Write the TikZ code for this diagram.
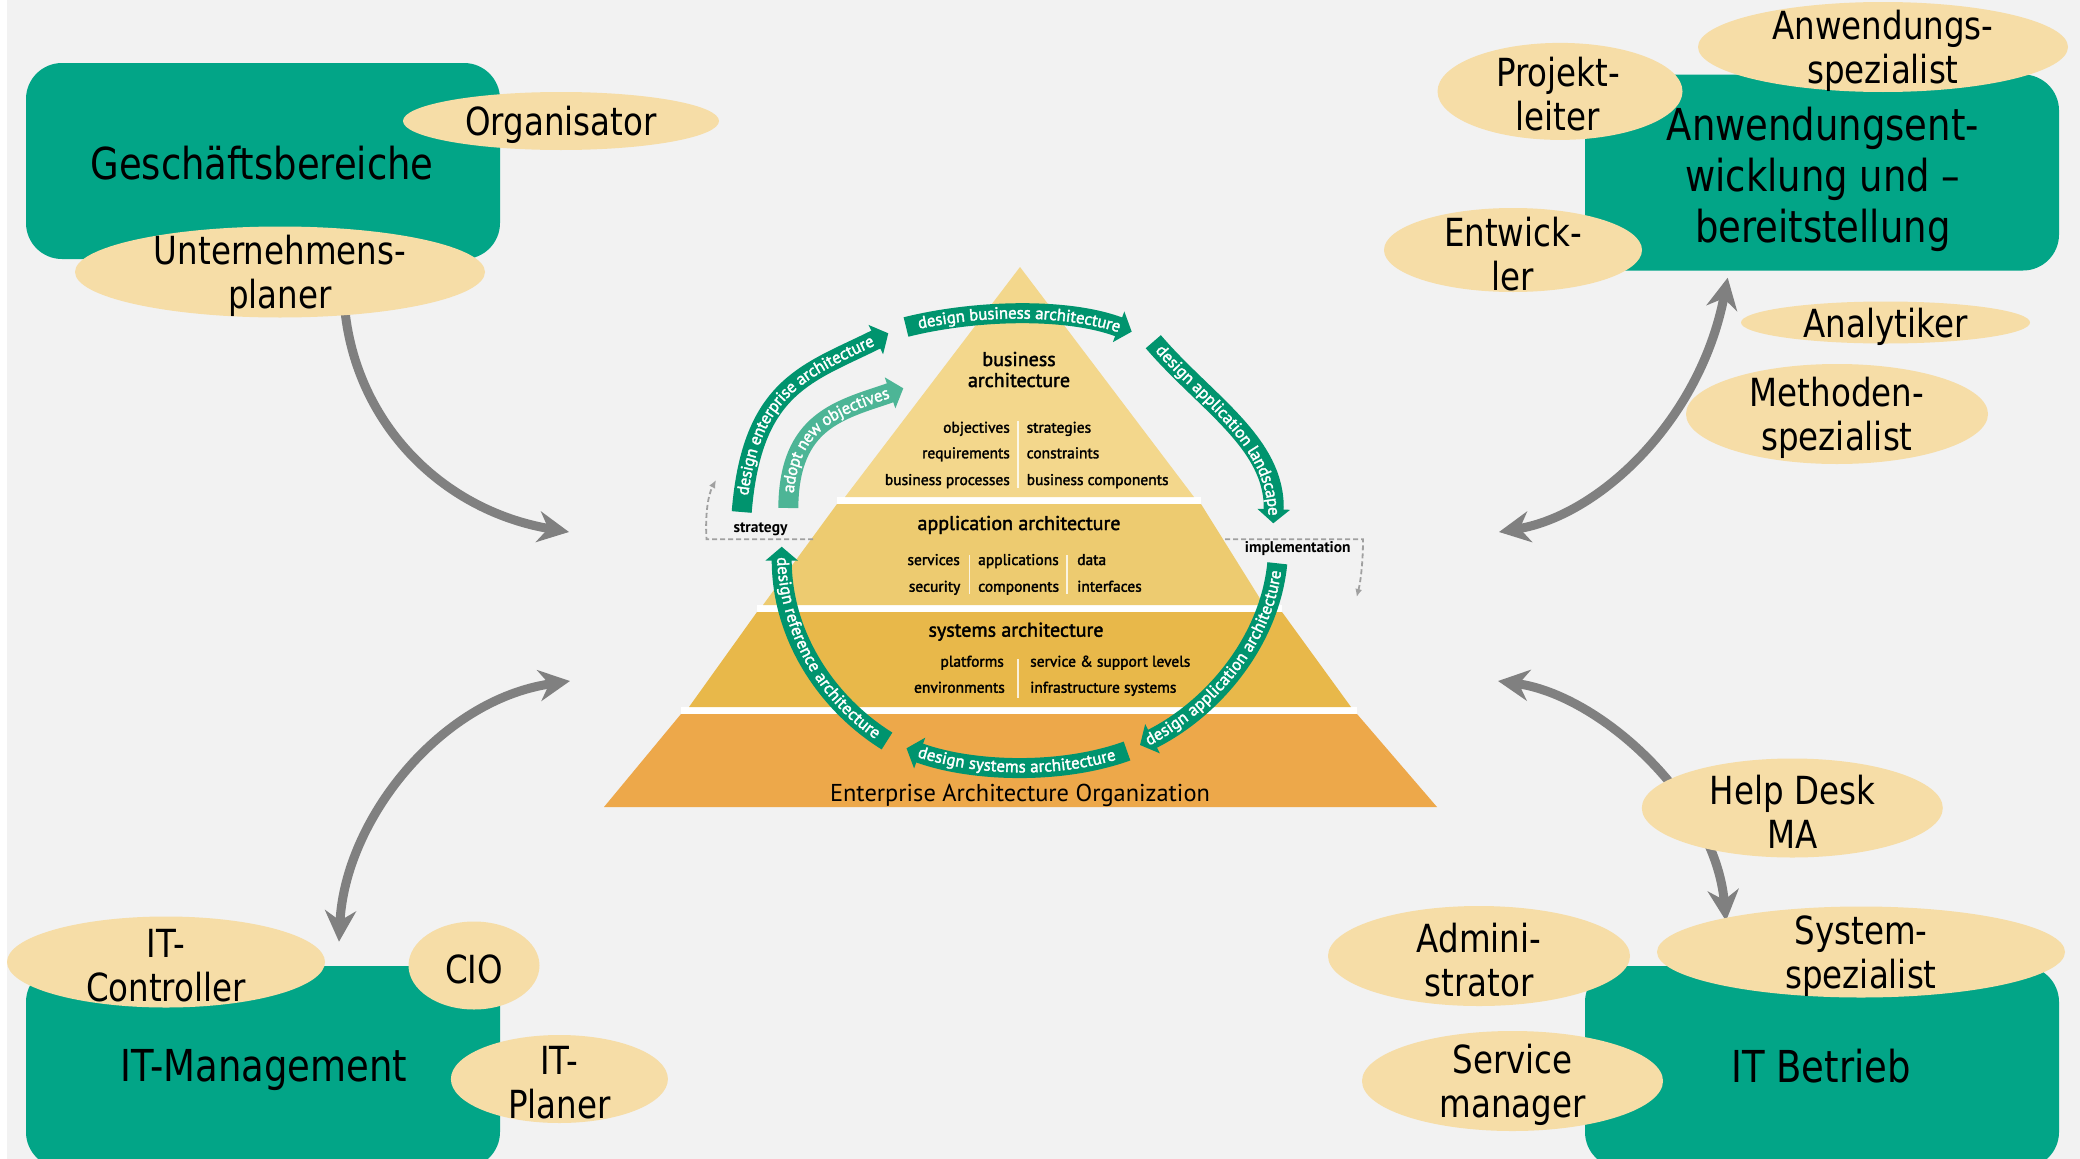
\documentclass[tikz,border=0pt]{standalone}
\usepackage{fontspec}
\setmainfont{DejaVu Sans}[FakeStretch=0.84]
\newfontfamily\pyr{PT Sans}
\newfontfamily\pyrm{PT Sans}[FakeBold=2]
\usetikzlibrary{arrows.meta,shapes.geometric,decorations.text}
\definecolor{bgcol}{RGB}{242,242,242}
\definecolor{boxgreen}{RGB}{2,165,135}
\definecolor{rolefill}{RGB}{246,221,167}
\definecolor{arrowgray}{RGB}{128,128,128}
\definecolor{tierA}{RGB}{243,215,140}
\definecolor{tierB}{RGB}{237,203,112}
\definecolor{tierC}{RGB}{232,184,74}
\definecolor{tierD}{RGB}{237,168,74}
\definecolor{cycgreen}{RGB}{0,148,110}
\definecolor{cyclight}{RGB}{77,181,150}
\definecolor{dashgray}{RGB}{160,160,160}
\newcommand\bandfont{\pyrm\fontsize{16.8}{17}\selectfont}
\begin{document}
\begin{tikzpicture}[x=1pt,y=-1pt,
  box/.style={rectangle, fill=boxgreen, rounded corners=36pt, inner sep=0pt},
  rolebg/.style={ellipse, fill=rolefill, inner sep=0pt},
  roletxt/.style={align=center, inner sep=0pt, yshift=-4pt, font=\fontsize{38.7}{44}\selectfont},
  boxtxt/.style={align=center, inner sep=0pt, font=\fontsize{44}{51}\selectfont},
  ptitle/.style={inner sep=0pt, anchor=base, font=\pyrm\fontsize{20}{21}\selectfont},
  pitem/.style={inner sep=0pt, font=\pyrm\fontsize{15.5}{16}\selectfont},
  plabel/.style={inner sep=0pt, font=\pyr\bfseries\fontsize{15.5}{16}\selectfont},
  sepline/.style={draw=white, line width=1.5pt, opacity=0.8},
  garrow/.style={draw=arrowgray, line width=9pt, -{Stealth[length=31pt,width=31pt,inset=10pt]}},
  garrowtwo/.style={draw=arrowgray, line width=9pt, {Stealth[length=31pt,width=31pt,inset=10pt]}-{Stealth[length=31pt,width=31pt,inset=10pt]}},
  cyc/.style={draw=cycgreen, line width=20pt, -{Triangle[length=14pt,width=32pt]}},
  cyctext/.style={decorate, decoration={text along path, text align=center, raise=-4.8pt, text color=white}},
  dashln/.style={draw=dashgray, line width=1.8pt, dash pattern=on 5pt off 3pt, -{Latex[length=8pt,width=7pt]}}
]
\useasboundingbox (0,0) rectangle (2080,1159);
\clip (0,0) rectangle (2080,1159);
\fill[white] (0,0) rectangle (2080,1159);
\fill[bgcol] (7,0) rectangle (2080,1159);

% ---------- pyramid ----------
\fill[white] (837,497) rectangle (1201,504);
\fill[white] (757,605) rectangle (1282,612);
\fill[white] (681,707) rectangle (1357,714);
\fill[tierA] (1020,267) -- (1194,497) -- (845,497) -- cycle;
\fill[tierB] (837,504) -- (1201,504) -- (1264,605) -- (763,605) -- cycle;
\fill[tierC] (757,612) -- (1282,612) -- (1351,707) -- (689,707) -- cycle;
\fill[tierD] (681,714) -- (1357,714) -- (1437,807) -- (604,807) -- cycle;

\draw[sepline] (1018,421) -- (1018,488);
\draw[sepline] (969.6,555) -- (969.6,594);
\draw[sepline] (1067,555) -- (1067,594);
\draw[sepline] (1018,659) -- (1018,698);

\node[ptitle] (baA) at (1019,366) {business};
\node[ptitle] (baB) at (1019,387) {architecture};
\node[pitem, anchor=base east] (iA1) at (1010,432.7) {objectives};
\node[pitem, anchor=base east] (iA2) at (1010,458.3) {requirements};
\node[pitem, anchor=base east] (iA3) at (1010,485) {business processes};
\node[pitem, anchor=base west] (iA4) at (1026.5,432.7) {strategies};
\node[pitem, anchor=base west] (iA5) at (1026.5,458.3) {constraints};
\node[pitem, anchor=base west] (iA6) at (1026.5,485) {business components};

\node[ptitle] (aa) at (1019,530) {application architecture};
\node[pitem, anchor=base east] (iB1) at (960,565) {services};
\node[pitem, anchor=base east] (iB2) at (960.5,591.7) {security};
\node[pitem, anchor=base west] (iB3) at (978,565) {applications};
\node[pitem, anchor=base west] (iB4) at (978,591.7) {components};
\node[pitem, anchor=base west] (iB5) at (1077,565) {data};
\node[pitem, anchor=base west] (iB6) at (1077,591.7) {interfaces};

\node[ptitle] (sa) at (1016,636.7) {systems architecture};
\node[pitem, anchor=base east] (iC1) at (1004,666.7) {platforms};
\node[pitem, anchor=base east] (iC2) at (1005,692.7) {environments};
\node[pitem, anchor=base west] (iC3) at (1030,666.7) {service \& support levels};
\node[pitem, anchor=base west] (iC4) at (1030,692.7) {infrastructure systems};

\node[inner sep=0pt, anchor=base, font=\pyr\fontsize{24.4}{25}\selectfont] (eao) at (1020,801.7) {Enterprise Architecture Organization};

% ---------- cycle arrows ----------
\draw[cyc] (741.7,512) .. controls (752,385) and (807.8,373.5) .. (888.3,333.3);
\path[cyctext, decoration={text={|\bandfont|design enterprise architecture}}] (741.7,512) .. controls (752,385) and (807.8,373.5) .. (888.3,333.3);
\draw[cyc, draw=cyclight] (788.3,508) .. controls (789,420) and (840,410) .. (903.3,388.3);
\path[cyctext, decoration={text={|\bandfont|adopt new objectives}}] (788.3,508) .. controls (789,420) and (840,410) .. (903.3,388.3);
\draw[cyc] (906,327) .. controls (973.9,310) and (1066.2,307.2) .. (1131.7,331.7);
\path[cyctext, decoration={text={|\bandfont|design business architecture}}] (906,327) .. controls (973.9,310) and (1066.2,307.2) .. (1131.7,331.7);
\draw[cyc] (1153.3,341.7) .. controls (1205.3,402.5) and (1275.7,443.3) .. (1273.3,523.3);
\path[cyctext, decoration={text={|\bandfont|design application landscape}}] (1153.3,341.7) .. controls (1205.3,402.5) and (1275.7,443.3) .. (1273.3,523.3);
\draw[cyc] (1277.3,563.3) .. controls (1269.3,642.9) and (1211.5,709.1) .. (1140,745);
\path[cyctext, decoration={text={|\bandfont|design application architecture}}] (1140,745) .. controls (1211.5,709.1) and (1269.3,642.9) .. (1277.3,563.3);
\draw[cyc] (1127,751) .. controls (1061.2,774.8) and (972.3,772.1) .. (906.5,748.3);
\path[cyctext, decoration={text={|\bandfont|design systems architecture}}] (906.5,748.3) .. controls (972.3,772.1) and (1061.2,774.8) .. (1127,751);
\draw[cyc] (887,741) .. controls (827.5,703.9) and (781.7,636.7) .. (781.7,546.7);
\path[cyctext, decoration={text={|\bandfont|design reference architecture}}] (781.7,546.7) .. controls (781.7,636.7) and (827.5,703.9) .. (887,741);

% ---------- strategy / implementation ----------
\node[plabel] (strat) at (760.5,529) {strategy};
\node[plabel] (impl) at (1297.8,549) {implementation};
\coordinate (stA) at (813,539.3);
\coordinate (stB) at (706.5,539.3);
\coordinate (stC) at (716,480);
\draw[dashln] (stA) -- (stB) .. controls (705,515) and (708,495) .. (stC);
\coordinate (imA) at (1225,539.3);
\coordinate (imB) at (1363,539.3);
\coordinate (imC) at (1356.7,597);
\draw[dashln] (imA) -- (imB) .. controls (1363,560) and (1361,580) .. (imC);

% ---------- gray connectors ----------
\coordinate (tlStart) at (344,300);
\coordinate (pyrTL) at (569,532);
\coordinate (itmTop) at (339,941.7);
\coordinate (pyrBL) at (570,681);
\coordinate (pyrTR) at (1499,532);
\coordinate (awTop) at (1727.7,277.7);
\coordinate (pyrBR) at (1498,681);
\coordinate (btTop) at (1726,921);
\draw[garrow] (tlStart) .. controls (352,420) and (440,510) .. (pyrTL);
\draw[garrowtwo] (itmTop) .. controls (345,820) and (440,700) .. (pyrBL);
\draw[garrowtwo] (pyrTR) .. controls (1600,515) and (1700,420) .. (awTop);
\draw[garrowtwo] (pyrBR) .. controls (1600,695) and (1715,800) .. (btTop);

% ---------- boxes ----------
\node[box, minimum width=474pt, minimum height=196pt] (gbBox) at (263,161) {};
\node[box, minimum width=474pt, minimum height=196pt] (awBox) at (1822,172.5) {};
\node[box, minimum width=474pt, minimum height=202pt] (itmBox) at (263,1067) {};
\node[box, minimum width=474pt, minimum height=202pt] (itbBox) at (1822,1067) {};

% ---------- role ellipses ----------
\node[rolebg, minimum width=316pt, minimum height=58pt] (orgE) at (561,121) {};
\node[rolebg, minimum width=410pt, minimum height=91pt] (planerE) at (280,272) {};
\node[rolebg, minimum width=245pt, minimum height=97pt] (projE) at (1560,91.4) {};
\node[rolebg, minimum width=370pt, minimum height=90pt] (anwE) at (1883,47) {};
\node[rolebg, minimum width=258pt, minimum height=84pt] (entE) at (1513,250) {};
\node[rolebg, minimum width=289pt, minimum height=42pt] (anaE) at (1885.5,322.5) {};
\node[rolebg, minimum width=302pt, minimum height=100pt] (methE) at (1837,414) {};
\node[rolebg, minimum width=318pt, minimum height=91pt] (ctrlE) at (166,962) {};
\node[rolebg, minimum width=131pt, minimum height=88pt] (cioE) at (474,965.5) {};
\node[rolebg, minimum width=217pt, minimum height=88pt] (planE) at (559.4,1079) {};
\node[rolebg, minimum width=302pt, minimum height=100pt] (adminE) at (1479,956) {};
\node[rolebg, minimum width=408pt, minimum height=91pt] (sysE) at (1861,952) {};
\node[rolebg, minimum width=301pt, minimum height=100pt] (servE) at (1512.5,1081) {};
\node[rolebg, minimum width=301pt, minimum height=99pt] (helpE) at (1792.3,808) {};

% ---------- texts ----------
\node[boxtxt] (gbT) at (262,163) {Geschäftsbereiche};
\node[boxtxt] (awT) at (1822.8,179) {Anwendungsent-\\wicklung und –\\bereitstellung};
\node[boxtxt] (itmT) at (263.6,1070) {IT-Management};
\node[boxtxt] (itbT) at (1821,1066) {IT Betrieb};

\node[roletxt] (orgT) at (orgE) {Organisator};
\node[roletxt] (planerT) at (planerE) {Unternehmens-\\planer};
\node[roletxt] (projT) at (1558,90) {Projekt-\\leiter};
\node[roletxt] (anwT) at (anwE) {Anwendungs-\\spezialist};
\node[roletxt] (entT) at (entE) {Entwick-\\ler};
\node[roletxt] (anaT) at (anaE) {Analytiker};
\node[roletxt] (methT) at (methE) {Methoden-\\spezialist};
\node[roletxt] (ctrlT) at (ctrlE) {IT-\\Controller};
\node[roletxt] (cioT) at (cioE) {CIO};
\node[roletxt] (planT) at (planE) {IT-\\Planer};
\node[roletxt] (adminT) at (adminE) {Admini-\\strator};
\node[roletxt] (sysT) at (sysE) {System-\\spezialist};
\node[roletxt] (servT) at (servE) {Service\\manager};
\node[roletxt] (helpT) at (helpE) {Help Desk\\MA};
\end{tikzpicture}
\end{document}
